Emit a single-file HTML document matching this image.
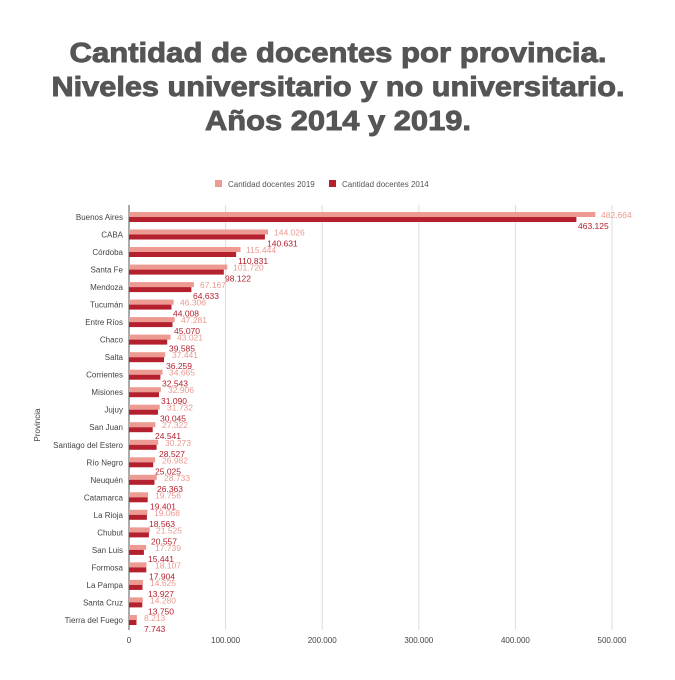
<!DOCTYPE html>
<html><head><meta charset="utf-8"><style>
html,body{margin:0;padding:0;background:#fff;}
.t{font-family:"Liberation Sans",sans-serif;font-weight:bold;fill:#555;stroke:#555;stroke-width:0.9;font-size:28px;text-anchor:middle;}
.l{font-family:"Liberation Sans",sans-serif;font-size:8px;fill:#444;text-anchor:end;}
.a{font-family:"Liberation Sans",sans-serif;font-size:8.5px;fill:#ec9a92;}
.b{font-family:"Liberation Sans",sans-serif;font-size:8.5px;fill:#b5202e;}
.x{font-family:"Liberation Sans",sans-serif;font-size:8px;fill:#444;text-anchor:middle;}
</style></head><body>
<svg width="675" height="675" xmlns="http://www.w3.org/2000/svg">
<rect width="675" height="675" fill="#fff"/>
<text class="t" x="338" y="62" textLength="537" lengthAdjust="spacingAndGlyphs">Cantidad de docentes por provincia.</text>
<text class="t" x="338" y="96" textLength="573" lengthAdjust="spacingAndGlyphs">Niveles universitario y no universitario.</text>
<text class="t" x="338" y="130" textLength="266" lengthAdjust="spacingAndGlyphs">Años 2014 y 2019.</text>
<rect x="215" y="180" width="7" height="7" fill="#ec9a92"/>
<text x="228" y="187" font-family="Liberation Sans" font-size="8" fill="#555">Cantidad docentes 2019</text>
<rect x="329" y="180" width="7" height="7" fill="#b5202e"/>
<text x="342" y="187" font-family="Liberation Sans" font-size="8" fill="#555">Cantidad docentes 2014</text>
<g stroke="#ddd" stroke-width="1">
<line x1="225.6" y1="205" x2="225.6" y2="630"/><line x1="322.2" y1="205" x2="322.2" y2="630"/>
<line x1="418.8" y1="205" x2="418.8" y2="630"/><line x1="515.4" y1="205" x2="515.4" y2="630"/>
<line x1="612" y1="205" x2="612" y2="630"/>
</g>
<line x1="129" y1="205" x2="129" y2="630" stroke="#555" stroke-width="1"/>
<text x="40" y="425" transform="rotate(-90 40 425)" font-family="Liberation Sans" font-size="8" fill="#444" text-anchor="middle">Provincia</text>
<text class="x" x="129" y="643">0</text><text class="x" x="225.6" y="643">100.000</text><text class="x" x="322.2" y="643">200.000</text><text class="x" x="418.8" y="643">300.000</text><text class="x" x="515.4" y="643">400.000</text><text class="x" x="612" y="643">500.000</text>

<g transform="translate(0,217)"><text class="l" x="123" y="3">Buenos Aires</text><rect x="129" y="-5" width="466.3" height="5" fill="#ec9a92"/><rect x="129" y="0" width="447.4" height="5" fill="#b5202e"/><text class="a" x="601" y="1">482.664</text><text class="b" x="578" y="12">463.125</text></g>
<g transform="translate(0,234.5)"><text class="l" x="123" y="3">CABA</text><rect x="129" y="-5" width="139.1" height="5" fill="#ec9a92"/><rect x="129" y="0" width="135.9" height="5" fill="#b5202e"/><text class="a" x="274" y="1">144.026</text><text class="b" x="267" y="12">140.631</text></g>
<g transform="translate(0,252)"><text class="l" x="123" y="3">Córdoba</text><rect x="129" y="-5" width="111.5" height="5" fill="#ec9a92"/><rect x="129" y="0" width="107.1" height="5" fill="#b5202e"/><text class="a" x="246" y="1">115.444</text><text class="b" x="238" y="12">110.831</text></g>
<g transform="translate(0,269.6)"><text class="l" x="123" y="3">Santa Fe</text><rect x="129" y="-5" width="98.3" height="5" fill="#ec9a92"/><rect x="129" y="0" width="94.8" height="5" fill="#b5202e"/><text class="a" x="233" y="1">101.720</text><text class="b" x="225" y="12">98.122</text></g>
<g transform="translate(0,287.1)"><text class="l" x="123" y="3">Mendoza</text><rect x="129" y="-5" width="64.9" height="5" fill="#ec9a92"/><rect x="129" y="0" width="62.4" height="5" fill="#b5202e"/><text class="a" x="200" y="1">67.167</text><text class="b" x="193" y="12">64.633</text></g>
<g transform="translate(0,304.6)"><text class="l" x="123" y="3">Tucumán</text><rect x="129" y="-5" width="44.7" height="5" fill="#ec9a92"/><rect x="129" y="0" width="42.5" height="5" fill="#b5202e"/><text class="a" x="180" y="1">46.306</text><text class="b" x="173" y="12">44.008</text></g>
<g transform="translate(0,322.1)"><text class="l" x="123" y="3">Entre Ríos</text><rect x="129" y="-5" width="45.7" height="5" fill="#ec9a92"/><rect x="129" y="0" width="43.5" height="5" fill="#b5202e"/><text class="a" x="181" y="1">47.281</text><text class="b" x="174" y="12">45.070</text></g>
<g transform="translate(0,339.6)"><text class="l" x="123" y="3">Chaco</text><rect x="129" y="-5" width="41.6" height="5" fill="#ec9a92"/><rect x="129" y="0" width="38.2" height="5" fill="#b5202e"/><text class="a" x="177" y="1">43.021</text><text class="b" x="169" y="12">39.585</text></g>
<g transform="translate(0,357.2)"><text class="l" x="123" y="3">Salta</text><rect x="129" y="-5" width="36.2" height="5" fill="#ec9a92"/><rect x="129" y="0" width="35" height="5" fill="#b5202e"/><text class="a" x="172" y="1">37.441</text><text class="b" x="166" y="12">36.259</text></g>
<g transform="translate(0,374.7)"><text class="l" x="123" y="3">Corrientes</text><rect x="129" y="-5" width="33.5" height="5" fill="#ec9a92"/><rect x="129" y="0" width="31.4" height="5" fill="#b5202e"/><text class="a" x="169" y="1">34.665</text><text class="b" x="162" y="12">32.543</text></g>
<g transform="translate(0,392.2)"><text class="l" x="123" y="3">Misiones</text><rect x="129" y="-5" width="31.8" height="5" fill="#ec9a92"/><rect x="129" y="0" width="30" height="5" fill="#b5202e"/><text class="a" x="168" y="1">32.906</text><text class="b" x="161" y="12">31.090</text></g>
<g transform="translate(0,409.7)"><text class="l" x="123" y="3">Jujuy</text><rect x="129" y="-5" width="30.7" height="5" fill="#ec9a92"/><rect x="129" y="0" width="29" height="5" fill="#b5202e"/><text class="a" x="167" y="1">31.732</text><text class="b" x="160" y="12">30.045</text></g>
<g transform="translate(0,427.2)"><text class="l" x="123" y="3">San Juan</text><rect x="129" y="-5" width="26.4" height="5" fill="#ec9a92"/><rect x="129" y="0" width="23.7" height="5" fill="#b5202e"/><text class="a" x="162" y="1">27.322</text><text class="b" x="155" y="12">24.541</text></g>
<g transform="translate(0,444.8)"><text class="l" x="123" y="3">Santiago del Estero</text><rect x="129" y="-5" width="29.2" height="5" fill="#ec9a92"/><rect x="129" y="0" width="27.6" height="5" fill="#b5202e"/><text class="a" x="165" y="1">30.273</text><text class="b" x="159" y="12">28.527</text></g>
<g transform="translate(0,462.3)"><text class="l" x="123" y="3">Río Negro</text><rect x="129" y="-5" width="26.1" height="5" fill="#ec9a92"/><rect x="129" y="0" width="24.2" height="5" fill="#b5202e"/><text class="a" x="162" y="1">26.982</text><text class="b" x="155" y="12">25.025</text></g>
<g transform="translate(0,479.8)"><text class="l" x="123" y="3">Neuquén</text><rect x="129" y="-5" width="27.8" height="5" fill="#ec9a92"/><rect x="129" y="0" width="25.5" height="5" fill="#b5202e"/><text class="a" x="164" y="1">28.733</text><text class="b" x="157" y="12">26.363</text></g>
<g transform="translate(0,497.3)"><text class="l" x="123" y="3">Catamarca</text><rect x="129" y="-5" width="19.1" height="5" fill="#ec9a92"/><rect x="129" y="0" width="18.7" height="5" fill="#b5202e"/><text class="a" x="155" y="1">19.756</text><text class="b" x="150" y="12">19.401</text></g>
<g transform="translate(0,514.8)"><text class="l" x="123" y="3">La Rioja</text><rect x="129" y="-5" width="18.4" height="5" fill="#ec9a92"/><rect x="129" y="0" width="17.9" height="5" fill="#b5202e"/><text class="a" x="154" y="1">19.068</text><text class="b" x="149" y="12">18.563</text></g>
<g transform="translate(0,532.4)"><text class="l" x="123" y="3">Chubut</text><rect x="129" y="-5" width="20.8" height="5" fill="#ec9a92"/><rect x="129" y="0" width="19.9" height="5" fill="#b5202e"/><text class="a" x="156" y="1">21.525</text><text class="b" x="151" y="12">20.557</text></g>
<g transform="translate(0,549.9)"><text class="l" x="123" y="3">San Luis</text><rect x="129" y="-5" width="17.1" height="5" fill="#ec9a92"/><rect x="129" y="0" width="14.9" height="5" fill="#b5202e"/><text class="a" x="155" y="1">17.739</text><text class="b" x="148" y="12">15.441</text></g>
<g transform="translate(0,567.4)"><text class="l" x="123" y="3">Formosa</text><rect x="129" y="-5" width="17.5" height="5" fill="#ec9a92"/><rect x="129" y="0" width="17.3" height="5" fill="#b5202e"/><text class="a" x="155" y="1">18.107</text><text class="b" x="149" y="12">17.904</text></g>
<g transform="translate(0,584.9)"><text class="l" x="123" y="3">La Pampa</text><rect x="129" y="-5" width="14.1" height="5" fill="#ec9a92"/><rect x="129" y="0" width="13.5" height="5" fill="#b5202e"/><text class="a" x="150" y="1">14.625</text><text class="b" x="148" y="12">13.927</text></g>
<g transform="translate(0,602.4)"><text class="l" x="123" y="3">Santa Cruz</text><rect x="129" y="-5" width="13.8" height="5" fill="#ec9a92"/><rect x="129" y="0" width="13.3" height="5" fill="#b5202e"/><text class="a" x="150" y="1">14.280</text><text class="b" x="148" y="12">13.750</text></g>
<g transform="translate(0,620)"><text class="l" x="123" y="3">Tierra del Fuego</text><rect x="129" y="-5" width="7.9" height="5" fill="#ec9a92"/><rect x="129" y="0" width="7.5" height="5" fill="#b5202e"/><text class="a" x="144" y="1">8.213</text><text class="b" x="144" y="12">7.743</text></g>
</svg>
</body></html>
